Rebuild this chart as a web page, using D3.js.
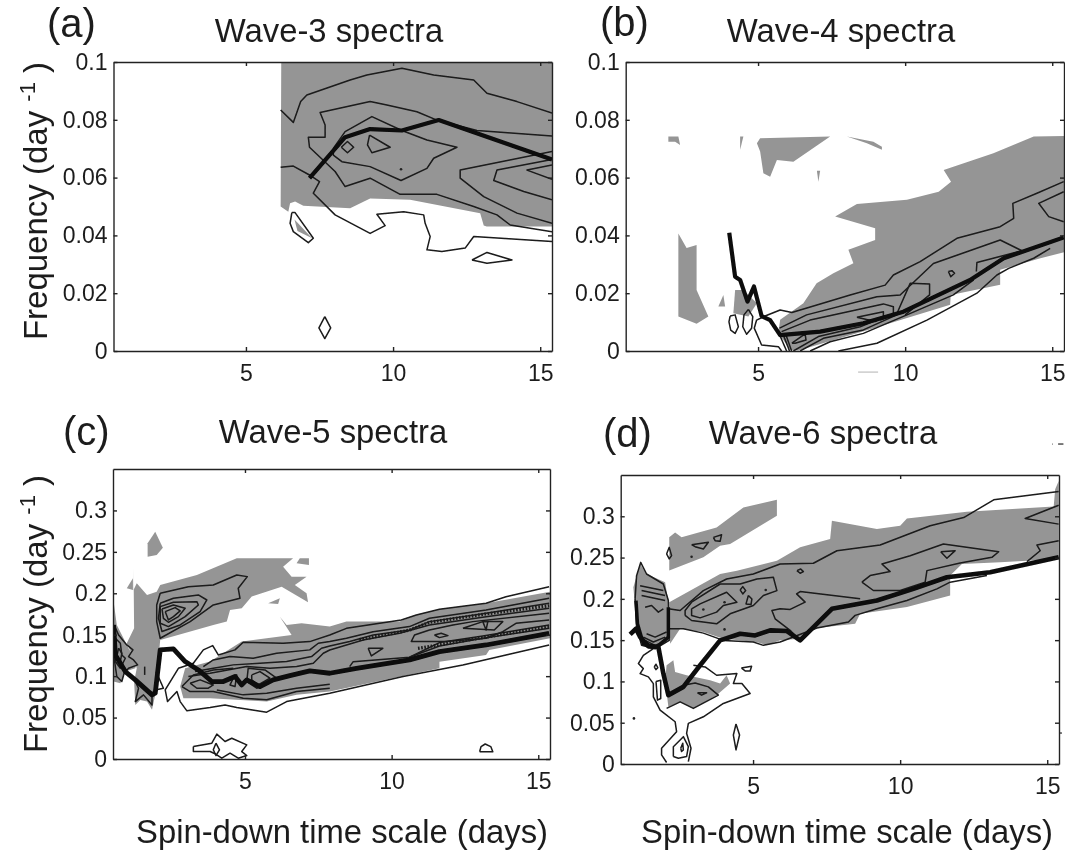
<!DOCTYPE html>
<html><head><meta charset="utf-8">
<script src="https://cdn.jsdelivr.net/npm/d3@7"></script>
<style>
html,body{margin:0;padding:0;background:#fff}
text{font-family:"Liberation Sans",Arial,sans-serif;fill:#1c1c1c}
</style></head><body>
<svg id="chart" width="1065" height="854"></svg>
<script>
// ---------- tick values and labels ----------
const xTicks = [5, 10, 15];
const xTickLabels = ["5", "10", "15"];
const yTicksAB = [0, 0.02, 0.04, 0.06, 0.08, 0.1];
const yTickLabelsAB = ["0", "0.02", "0.04", "0.06", "0.08", "0.1"];
const yTicksCD = [0, 0.05, 0.1, 0.15, 0.2, 0.25, 0.3];
const yTickLabelsCD = ["0", "0.05", "0.1", "0.15", "0.2", "0.25", "0.3"];
const xDomain = [0.5, 15.4];
const titles = ["Wave-3 spectra", "Wave-4 spectra", "Wave-5 spectra", "Wave-6 spectra"];
const letters = ["(a)", "(b)", "(c)", "(d)"];
const xLabel = "Spin-down time scale (days)";

// ---------- (a) wave-3: [spin-down days, frequency] ----------
const shadeA = [
 [[6.2,.1],[15.4,.1],[15.4,.0431],[13.18,.0431],[13.08,.0434],[12.96,.0477],[10.58,.0523],[9.22,.0528],[8.54,.0494],[6.95,.0503],[6.67,.0517],[6.5,.0511],[6.44,.0482],[6.18,.05]],
 [[6.65,.0455],[7.25,.039],[6.75,.0415]]
];
const contoursA = [
 [[6.18,.0834],[6.61,.0791],[6.86,.0863],[7.07,.0886],[8.54,.0938],[9.11,.0955],[10.3,.0978],[11.38,.0955],[12.74,.0938],[13.19,.0892],[14.21,.0863],[15.4,.0823]],
 [[15.4,.0744],[12.85,.0763],[11.49,.0799],[10.81,.0828],[9.79,.0851],[9.22,.0863],[7.52,.0825],[7.69,.0782],[7.69,.074],[7.12,.074],[7.16,.0705],[8.03,.0621],[8.37,.0569],[9.22,.0598],[10.24,.0542],[11.49,.0542],[12.74,.05],[13.53,.0471],[13.98,.0436],[15.4,.0413]],
 [[7.97,.0701],[8.37,.0759],[9.28,.0811],[10.3,.0763],[11.15,.073],[12.17,.0705],[11.38,.0667],[11.15,.0632],[10.27,.059],[9.22,.0638],[8.26,.0655],[7.97,.0678],[7.97,.0701]],
 [[8.24,.0705],[8.45,.0725],[8.66,.0705],[8.45,.0686],[8.24,.0705]],
 [[9.2,.0747],[9.9,.0705],[9.28,.0686],[9.13,.0713],[9.2,.0747]],
 [[6.18,.0636],[6.61,.064],[7.16,.0609],[7.5,.0586],[7.29,.0546],[8.03,.0471],[9.22,.0407],[9.73,.0434],[9.45,.0473],[10.36,.0482],[11.04,.0471],[11.09,.0442],[11.26,.0396],[11.15,.035],[11.66,.0344],[12.45,.0356],[12.74,.0396],[15.4,.0379]],
 [[15.4,.069],[12.28,.0626],[12.28,.0598],[13.08,.0534],[14.21,.0477],[15.4,.0442]],
 [[15.4,.0663],[13.53,.0626],[13.42,.059],[14.44,.0552],[15.4,.0523]],
 [[15.4,.0644],[14.55,.0626],[15.4,.0594]],
 [[12.68,.0315],[13.19,.0341],[14.04,.0315],[13.19,.0304],[12.68,.0315]],
 [[6.56,.0479],[6.67,.0479],[7.29,.039],[7.12,.0375],[6.61,.0413],[6.5,.0442],[6.56,.0479]],
 [[7.68,.0119],[7.88,.008],[7.68,.0043],[7.48,.008],[7.68,.0119]]
];
const peakA = [[7.16,.0598],[8.37,.074],[9.22,.0768],[10.3,.0763],[11.55,.0799],[15.4,.0663]];
const dotsA = [[10.27,.0629]];

// ---------- (b) wave-4 ----------
const shadeB = [
 [[15.4,.0744],[14.37,.0742],[13,.0684],[11.31,.0626],[11.56,.0586],[11.14,.0551],[10.06,.0523],[8.36,.0509],[7.62,.0465],[8.98,.0425],[8.98,.0384],[8.07,.035],[8.24,.0304],[7.56,.0269],[6.99,.0234],[6.54,.0165],[5.75,.0108],[5.69,.0062],[6.09,.0004],[6.37,.0002],[8.93,.0079],[11.53,.016],[11.55,.0194],[13.23,.0229],[13.23,.0281],[14.6,.0321],[15.4,.0342]],
 [[1.95,.0742],[2.29,.0742],[2.35,.0713],[2.18,.0724],[1.95,.0724]],
 [[4.39,.0742],[4.5,.0742],[4.39,.0696]],
 [[5.07,.0736],[7.45,.0742],[6.2,.0655],[5.64,.0661],[5.41,.0603],[5.18,.0615],[5.07,.069],[4.96,.0719]],
 [[8.02,.0742],[8.92,.0724],[9.21,.0707],[9.21,.0696],[8.7,.0719]],
 [[7,.0624],[7.11,.0624],[7.05,.0586]],
 [[2.29,.0407],[2.57,.0356],[2.91,.0367],[2.91,.0211],[3.31,.0119],[2.91,.0094],[2.29,.0119]],
 [[3.82,.0194],[3.88,.0154],[3.65,.0154]],
 [[4.22,.0211],[4.5,.0211],[4.96,.0165],[4.67,.0119],[4.16,.0131]]
];
const contoursB = [
 [[5.8,0],[5.69,.0015],[5.12,.0021],[4.87,.0079],[4.95,.0107],[5.24,.0121],[5.75,.0142],[6.15,.0133],[8.13,.0194],[9.32,.0228],[9.6,.0263],[10.51,.0309],[11.76,.039],[13.23,.043],[13.69,.0459],[13.66,.0511],[14.48,.0546],[15.39,.0586]],
 [[15.39,.0551],[14.54,.0511],[14.88,.0465],[15.39,.0447]],
 [[5.73,.0079],[6.65,.0125],[9.04,.0188],[9.83,.0194],[10.96,.0303],[13.23,.0384],[13.97,.0347],[12.44,.0306],[12.42,.0275]],
 [[5.8,.0067],[6.77,.0107],[9.26,.0163],[9.6,.0153],[9.6,.0125],[9.15,.0107]],
 [[8.36,.0117],[9.26,.0136],[9.26,.0119],[8.98,.0102],[8.36,.0117]],
 [[9.72,.013],[10.17,.0234],[10.83,.0232],[10.83,.0194],[10,.0125]],
 [[11.47,.0275],[11.59,.0278],[11.68,.0269],[11.55,.0257],[11.47,.0275]],
 [[6.15,.0027],[6.6,.0059],[6.63,.0038],[6.26,.0027],[6.15,.0027]],
 [[7.73,0],[9.04,.0027],[10.74,.0107],[12.44,.02],[13.12,.0263],[13.52,.0286],[14.37,.0321],[14.93,.0355]],
 [[6.77,0],[7.45,.0032],[8.58,.0061],[10.06,.0125],[11.64,.0194],[12.33,.0246]],
 [[6.43,0],[7.22,.0044],[8.58,.0073],[9.83,.013]],
 [[6.2,0],[7.05,.005],[8.47,.0084],[9.49,.0125]],
 [[5.97,0],[5.75,.0052]],
 [[6.07,0],[5.86,.0055]],
 [[6.14,0],[5.95,.0055]],
 [[4.05,.0121],[4.22,.0125],[4.33,.0084],[4.22,.0061],[4.07,.0072],[4.01,.0101],[4.05,.0121]],
 [[4.67,.0144],[4.82,.0119],[4.78,.0079],[4.61,.0058],[4.48,.0084],[4.52,.0125],[4.67,.0144]]
];
const peakB = [[4.02,.0409],[4.22,.0257],[4.39,.0246],[4.64,.0171],[4.86,.0223],[5.12,.0121],[5.41,.0107],[5.75,.0055],[7.11,.0067],[8.58,.0096],[9.94,.0136],[12.21,.0246],[13.35,.0321],[15.39,.0393]];
const specksB = [[[8.4,-.0073],[9.08,-.0073]]];

// ---------- (c) wave-5 ----------
const shadeC = [
 [[1.94,.2744],[2.2,.2551],[1.99,.2462],[1.68,.2442],[1.68,.2603]],
 [[1.2,.2301],[1.2,.204],[1.31,.212],[1.66,.198],[1.99,.202],[2.11,.21],[3.36,.2221],[4.72,.2422],[6.64,.2422],[6.3,.2321],[6.59,.2201],[7.1,.2201],[6.7,.21],[7.1,.2],[7.15,.1891],[6.25,.208],[5.23,.196],[4.89,.1819],[4.49,.1799],[4.38,.1658],[3.92,.1618],[2.11,.1437],[1.99,.1015],[1.94,.0774],[1.83,.0593],[1.66,.0693],[1.43,.0713],[1.26,.0653],[1.22,.0935],[1.31,.1095],[1.2,.1216],[.97,.1397],[1.22,.1578]],
 [[6.87,.2422],[7.18,.2422],[7.18,.2342],[6.76,.2362]],
 [[5.79,.1879],[6.19,.194],[6.13,.1871]],
 [[.97,.206],[1.18,.218],[1.18,.204]],
 [[.52,.19],[.63,.1618],[1.03,.1337],[1.31,.1175],[1.26,.1095],[.92,.1055],[.75,.0914],[.52,.0935]],
 [[2.79,.0874],[2.96,.1095],[3.81,.1176],[4.89,.1417],[6.59,.1497],[6.19,.1718],[6.42,.1618],[6.93,.1638],[7.89,.1598],[8.46,.1658],[10.27,.1658],[10.84,.1738],[11.63,.1807],[13.22,.1879],[15.4,.202],[15.4,.1457],[13.33,.1316],[13.22,.1256],[11.63,.1175],[11.63,.1095],[7.89,.0814],[6.76,.0774],[5.74,.0693],[3.81,.0734],[2.9,.0734]]
];
const contoursC = [
 [[2.11,.2],[3.07,.208],[3.92,.21],[4.72,.2221],[5.08,.2201],[4.77,.206],[4.83,.194],[3.92,.1859],[3.13,.1658],[2.11,.1457],[1.99,.1658],[1.99,.1859],[2.11,.2]],
 [[2.11,.1879],[2.56,.194],[3.41,.198],[3.7,.1919],[3.47,.1779],[2.79,.1618],[2.17,.1538],[2.05,.1698],[2.11,.1879]],
 [[2.11,.1839],[2.56,.1891],[3.36,.1899],[3.41,.1859],[2.96,.1718],[2.39,.1598],[2.11,.1638],[2.11,.1839]],
 [[2.17,.1811],[2.56,.1859],[2.96,.1819],[2.73,.1718],[2.39,.165],[2.22,.1698],[2.17,.1811]],
 [[2.28,.1779],[2.62,.1827],[2.79,.1787],[2.56,.1718],[2.39,.1678],[2.28,.1779]],
 [[15.37,.208],[13.9,.1959],[13.22,.1879],[11.63,.1807],[10.84,.1738],[10.33,.1678],[8.46,.1577],[7.89,.1497],[7.21,.1417],[6.3,.1397],[4.94,.1409],[4.66,.1317],[4.09,.1256],[3.9,.1369],[3.58,.1317],[3.24,.1156],[2.73,.1095],[2.28,.0834],[2.36,.0693],[2.68,.0814],[2.79,.0693],[3.02,.0581],[3.81,.0621],[4.32,.0653],[4.72,.0621],[5.74,.0565],[6.42,.0693],[7.89,.0794],[10.39,.0995],[12.43,.1135],[15.37,.1376]],
 [[3.58,.1116],[3.92,.1196],[4.49,.1236],[5.28,.1216],[6.08,.1276],[7.21,.1317],[7.5,.1397],[7.89,.1417],[8.46,.1457],[9.37,.1537],[10.61,.1598],[11.29,.1698],[13.22,.1799],[15.37,.1939]],
 [[3.3,.1055],[3.92,.1095],[4.6,.1136],[5.51,.1156],[6.42,.1176],[7.27,.1236],[7.61,.1337],[7.89,.1364],[8.57,.1417],[9.37,.1497],[10.61,.1557],[11.29,.1658],[13.22,.1758],[15.37,.1879]],
 [[3.07,.0995],[3.81,.1035],[5.06,.1116],[5.85,.1095],[6.76,.1116],[7.33,.1156],[7.67,.1276],[7.89,.1316],[9.03,.1437],[10.27,.1517],[11.29,.1618],[13.22,.1718],[15.37,.1819]],
 [[8.57,.1115],[8.69,.1175],[10.61,.1228],[11.63,.1364],[13.11,.1457],[15.37,.1577]],
 [[10.61,.1228],[11.63,.1405],[13.11,.1485],[15.37,.1618]],
 [[12.43,.1577],[13.11,.1658],[13.79,.1658],[13.5,.1557],[12.43,.1577]],
 [[15.37,.1678],[14.24,.1638],[13.79,.1537],[13.22,.1457],[11.86,.1417],[10.67,.1417],[10.78,.1497],[11.29,.1557],[12.09,.1618],[12.77,.1658],[15.37,.1758]],
 [[11.46,.1497],[11.69,.1517],[11.92,.1489],[11.63,.1465],[11.46,.1497]],
 [[9.2,.1336],[9.7,.1336],[9.31,.1244],[9.2,.1336]],
 [[13.11,.1658],[13.28,.1658],[13.22,.1557],[13.11,.1658]],
 [[3.13,.0915],[3.47,.0955],[3.92,.0894],[3.75,.0854],[3.36,.0854],[3.13,.0915]],
 [[2.85,.0874],[3.13,.0814],[3.92,.0814],[4.94,.0734],[5.74,.0714],[6.76,.0814],[7.89,.0854]],
 [[4.04,.0834],[4.94,.0774],[5.74,.0794],[6.76,.0854],[7.89,.0902]],
 [[5.06,.0934],[5.11,.1095],[5.68,.1075],[6.08,.0975],[5.4,.0854],[5.06,.0934]],
 [[5.23,.1015],[5.51,.1055],[5.85,.0975],[5.45,.0894],[5.23,.0955],[5.23,.1015]],
 [[4.6,.0975],[4.72,.1015],[4.66,.0874],[4.49,.0894],[4.6,.0975]],
 [[2.85,.0874],[3.24,.1015],[3.92,.1075],[4.6,.1095]],
 [[.54,.1618],[.69,.1497],[.97,.1377],[1.18,.1317],[1.03,.1236],[1.2,.1196],[1.34,.1136],[1.03,.1095],[.88,.1035],[.8,.0935],[.63,.0995],[.54,.1216],[.54,.1618]],
 [[.58,.1457],[.75,.1397],[.8,.1256],[.92,.1216],[.75,.1095],[.58,.1176],[.58,.1457]],
 [[.69,.1337],[.8,.1276],[.75,.1176],[.63,.1236],[.69,.1337]],
 [[1.26,.0935],[1.37,.0854],[1.26,.0693],[1.54,.0774],[1.83,.0653],[1.83,.0814]],
 [[1.58,.1115],[1.58,.1015]],
 [[1.97,.1055],[2.22,.0854],[1.94,.0834]],
 [[3.24,.0151],[3.87,.0191],[4.04,.03],[4.32,.0211],[4.55,.0251],[5.06,.017],[4.89,.009],[5.06,.0042],[4.77,.001],[4.49,.007],[4.21,.001],[4,.006],[3.81,.009],[3.24,.009],[3.24,.0151]],
 [[4.01,.0191],[4.13,.0111],[4.01,.0042],[3.92,.0111],[4.01,.0191]],
 [[13,.0088],[13.05,.015],[13.19,.0181],[13.38,.015],[13.45,.0088],[13,.0088]]
];
const denseC = [
 [[8.9,.144],[10.6,.1555],[11.3,.165],[13.2,.175],[15.37,.185]],
 [[10.9,.1335],[13.1,.1465],[15.37,.1595]]
];
const peakC = [[.52,.1618],[.58,.1256],[.92,.1055],[1.26,.0955],[1.83,.0774],[1.94,.0794],[2.11,.1317],[2.56,.1329],[2.96,.1176],[3.41,.1075],[3.87,.0935],[4.26,.0935],[4.66,.0995],[4.89,.0894],[5.06,.0955],[5.51,.0874],[5.96,.0955],[6.53,.1007],[7.21,.1063],[7.89,.1035],[8.8,.1095],[10.61,.1196],[11.63,.1296],[13.22,.1376],[15.37,.1517]];

// ---------- (d) wave-6 ----------
const shadeD = [
 [[2.15,.2745],[2.35,.2805],[2.57,.2745],[3.76,.2865],[4.67,.3107],[5.81,.32],[5.81,.3006],[4.22,.2664],[3.88,.2644],[3.31,.2504],[2.15,.2343]],
 [[2.15,.1959],[3.88,.2301],[4.45,.2341],[5.81,.2462],[6.6,.2624],[7.62,.2724],[7.68,.2945],[9.21,.2845],[10,.2885],[10.23,.2973],[12.27,.3054],[15.22,.3118],[15.27,.3327],[15.39,.3428],[15.39,.2483],[13.4,.2443],[12.1,.2423],[11.7,.2282],[11.7,.204],[10.23,.19],[8.64,.182],[8.47,.1699],[7.17,.1647],[6.6,.1518],[5.92,.1498],[5.47,.1437],[5.12,.1477],[3.99,.1517],[3.31,.1598],[2.52,.1638],[2.18,.1457]],
 [[.93,.214],[1.16,.2422],[1.38,.2301],[2.01,.2201],[2.15,.1899],[2.15,.1497],[1.61,.1417],[1.21,.1457],[1.04,.1698]],
 [[2.06,.1196],[2.29,.1256],[2.35,.1115],[2.74,.1075],[3.54,.1015],[3.88,.0974],[4.1,.1075],[4.22,.0974],[3.76,.0834],[2.97,.0673],[2.52,.0753],[2.12,.0693],[2.01,.1015]]
];
const contoursD = [
 [[2.12,.1879],[2.52,.1859],[3.31,.21],[4.1,.2241],[5.01,.2301],[5.92,.2423],[7.05,.2431],[7.85,.2583],[9.32,.2652],[11.02,.2885],[12.16,.2985],[13.18,.3199],[15.39,.3299]],
 [[2.12,.1638],[2.63,.1638],[3.31,.1585],[3.99,.1497],[5.01,.1477],[5.35,.1437],[5.92,.1477],[7.17,.1647],[8.24,.1719],[8.47,.18],[9.21,.188],[10.23,.198],[11.25,.2121],[11.7,.2202],[12.95,.2282]],
 [[8.7,.2202],[8.98,.2282],[9.66,.233],[9.38,.2423],[10.34,.2523],[11.47,.2664],[13.35,.2571],[13.12,.2503],[12.04,.2435],[10.91,.2342],[10.85,.2202],[10,.2101],[9.09,.2101],[8.7,.2202]],
 [[11.38,.2571],[11.87,.2584],[11.59,.2491],[11.38,.2571]],
 [[15.39,.3134],[14.25,.2973],[15.39,.2905]],
 [[15.39,.2704],[14.65,.2652],[14.76,.2583],[14.31,.245]],
 [[6.49,.2342],[6.62,.2362],[6.71,.233],[6.6,.231],[6.49,.2342]],
 [[8.64,.2],[6.6,.2089],[6.48,.206],[6.77,.196],[6.26,.1872],[5.92,.188],[5.64,.1859],[5.75,.1758],[6.26,.1618],[6.43,.1557]],
 [[2.69,.1799],[2.91,.1738],[3.76,.1698],[4.22,.1819],[5.01,.1919],[5.35,.204],[5.81,.21],[5.69,.2261],[5.13,.2241],[4.56,.218],[3.88,.218],[2.91,.1959],[2.69,.1859],[2.69,.1799]],
 [[2.91,.1879],[3.2,.1939],[4.1,.208],[4.45,.1959],[3.99,.1919],[3.76,.1839],[3.2,.177],[2.91,.1799],[2.91,.1879]],
 [[4.56,.2108],[4.65,.2148],[4.75,.21],[4.65,.206],[4.56,.2108]],
 [[4.84,.204],[4.96,.1999],[4.93,.1931],[4.76,.1939],[4.84,.204]],
 [[2.06,.2544],[2.15,.2624],[2.23,.2524],[2.15,.2484],[2.06,.2544]],
 [[2.91,.2656],[3.48,.2685],[3.31,.2604],[3.03,.2632],[2.91,.2656]],
 [[3.65,.2745],[3.93,.2777],[3.88,.2697],[3.71,.2705],[3.65,.2745]],
 [[.99,.2],[1.04,.2281],[1.18,.2442],[1.38,.2301],[1.95,.218],[2.12,.1979],[2.15,.1497],[1.67,.1396],[1.21,.1437],[1.04,.1658],[.99,.2]],
 [[1.16,.216],[1.95,.21]],
 [[1.21,.21],[2.01,.204]],
 [[1.21,.204],[2.01,.1979]],
 [[1.33,.1899],[1.55,.1919],[1.78,.1839],[1.95,.1879]],
 [[1.27,.1537],[1.61,.1477],[2.01,.1537]],
 [[1.33,.1497],[1.67,.1437],[2.06,.1497]],
 [[1.38,.1577],[1.67,.1537],[2.06,.1598]],
 [[1.61,.1396],[1.27,.1316],[1.1,.1216],[1.27,.1155],[1.16,.1095],[1.44,.1055],[1.61,.0974],[1.61,.0814],[1.84,.0653],[2.35,.0512],[2.4,.0392],[1.89,.0191],[1.89,.011],[2.06,.0018]],
 [[2.8,.003],[2.89,.0191],[2.74,.0372],[2.8,.0492],[3.31,.0572],[3.99,.0733],[4.9,.0854],[4.62,.0974],[4.33,.0974],[4.45,.1095],[3.76,.1075],[3.37,.1176],[2.97,.1196]],
 [[2.06,.0673],[2.52,.0753],[2.97,.0673],[3.82,.0834],[3.48,.0934],[3.03,.0982],[2.63,.0954]],
 [[3.11,.0862],[3.42,.0862],[3.25,.0834],[3.11,.0862]],
 [[1.7,.1],[1.86,.1015],[1.86,.0793],[1.75,.0773],[1.7,.1]],
 [[1.64,.1175],[1.7,.1208],[1.76,.1167],[1.7,.1143],[1.64,.1175]],
 [[4.6,.1163],[4.95,.1183],[4.9,.1127],[4.73,.1127],[4.6,.1163]],
 [[2.29,.009],[2.29,.021],[2.63,.0331],[2.8,.021],[2.74,.009],[2.46,.007],[2.29,.009]],
 [[2.54,.0191],[2.61,.0251],[2.63,.0171],[2.57,.0151],[2.54,.0191]],
 [[4.42,.0484],[4.54,.0351],[4.42,.0171],[4.33,.0351],[4.42,.0484]]
];
const heavyD = [[1.02,.1979],[1.07,.1698],[1.27,.1457],[1.72,.1417],[2.12,.1537],[2.12,.1899]];
const peakD = [[.82,.1569],[1.02,.1638],[1.16,.1537],[1.44,.1425],[1.78,.1417],[1.95,.1095],[2.12,.0834],[2.63,.0934],[3.2,.1196],[3.88,.1497],[4.56,.1577],[5.07,.1557],[5.58,.1618],[6.15,.161],[6.6,.1498],[7.68,.188],[9.21,.198],[10.45,.2121],[11.59,.2262],[13.06,.2322],[15.39,.2503]];
const dotsD = [[3.31,.1871],[4.03,.1959],[5.43,.2108],[4.03,.163],[2.91,.251],[.95,.0552]];
const specksD = [[[15.17,.3875],[15.19,.3875]],[[15.37,.3875],[15.55,.3875]],[[15.4,.0375],[15.5,.0375]]];

// ---------- layout ----------
const layout = [
 {L:113.5,R:552,T:62,B:351,yMax:.1,yTicks:yTicksAB,yLabs:yTickLabelsAB,shade:shadeA,lines:contoursA,peak:peakA,peakW:4.2,dots:dotsA,
  title:[329,42],letter:[47,37]},
 {L:625.7,R:1064,T:62,B:351,yMax:.1,yTicks:yTicksAB,yLabs:yTickLabelsAB,shade:shadeB,lines:contoursB,peak:peakB,peakW:4.2,specks:specksB,speckColor:"#c4c4c4",
  title:[841,42],letter:[600,36]},
 {L:113,R:550,T:469,B:759,yMax:.35,yTicks:yTicksCD,yLabs:yTickLabelsCD,shade:shadeC,lines:contoursC,peak:peakC,peakW:4.8,dense:denseC,
  title:[333,443],letter:[63,445]},
 {L:620.7,R:1059,T:475,B:764,yMax:.35,yTicks:yTicksCD,yLabs:yTickLabelsCD,shade:shadeD,lines:contoursD,peak:peakD,peakW:4.6,heavy:heavyD,dots:dotsD,specks:specksD,speckColor:"#333",
  title:[823,444],letter:[603,447]}
];

const svg = d3.select("#chart");
const defs = svg.append("defs");
defs.append("filter").attr("id","soft").append("feGaussianBlur").attr("stdDeviation",0.45);
const root = svg.append("g").attr("filter","url(#soft)");

layout.forEach((p,i)=>{
  const x = d3.scaleLinear().domain(xDomain).range([p.L,p.R]);
  const y = d3.scaleLinear().domain([0,p.yMax]).range([p.B,p.T]);
  const line = d3.line().x(d=>x(d[0])).y(d=>y(d[1]));
  const id = "clip"+i;
  defs.append("clipPath").attr("id",id).append("rect")
    .attr("x",p.L).attr("y",p.T).attr("width",p.R-p.L).attr("height",p.B-p.T);
  const g = root.append("g");
  const plot = g.append("g").attr("clip-path",`url(#${id})`);
  plot.selectAll("path.s").data(p.shade).join("path").attr("class","s")
    .attr("d",d=>line(d)+"Z").attr("fill","#959595");
  plot.selectAll("path.c").data(p.lines).join("path").attr("class","c")
    .attr("d",line).attr("fill","none").attr("stroke","#1a1a1a").attr("stroke-width",1.5).attr("stroke-linejoin","round");
  if(p.dense) plot.selectAll("path.d").data(p.dense).join("path").attr("class","d")
    .attr("d",line).attr("fill","none").attr("stroke","#1a1a1a").attr("stroke-width",3.2).attr("stroke-dasharray","1.6 1.6");
  if(p.heavy) plot.append("path").attr("d",line(p.heavy)).attr("fill","none").attr("stroke","#111").attr("stroke-width",3.5);
  if(p.dots) plot.selectAll("circle").data(p.dots).join("circle")
    .attr("cx",d=>x(d[0])).attr("cy",d=>y(d[1])).attr("r",1.3).attr("fill","#222");
  plot.append("path").attr("d",line(p.peak)).attr("fill","none").attr("stroke","#0a0a0a")
    .attr("stroke-width",p.peakW).attr("stroke-linejoin","round");
  if(p.specks) g.selectAll("path.k").data(p.specks).join("path").attr("class","k")
    .attr("d",line).attr("fill","none").attr("stroke",p.speckColor).attr("stroke-width",1.3);

  // axes: inward ticks on all four sides
  const style = a => { a.selectAll("path,line").attr("stroke","#222").attr("stroke-width",1.4); a.selectAll("path").attr("fill","none"); };
  const xb = g.append("g").attr("transform",`translate(0,${p.B})`)
    .call(d3.axisBottom(x).tickValues(xTicks).tickFormat((d,j)=>xTickLabels[j]).tickSizeInner(-4).tickSizeOuter(0).tickPadding(14));
  const yl = g.append("g").attr("transform",`translate(${p.L},0)`)
    .call(d3.axisLeft(y).tickValues(p.yTicks).tickFormat((d,j)=>p.yLabs[j]).tickSizeInner(-4).tickSizeOuter(0).tickPadding(6));
  const xt = g.append("g").attr("transform",`translate(0,${p.T})`)
    .call(d3.axisTop(x).tickValues(xTicks).tickFormat("").tickSizeInner(-4).tickSizeOuter(0));
  const yr = g.append("g").attr("transform",`translate(${p.R},0)`)
    .call(d3.axisRight(y).tickValues(p.yTicks).tickFormat("").tickSizeInner(-4).tickSizeOuter(0));
  [xb,yl,xt,yr].forEach(style);
  [xb,yl].forEach(a=>a.selectAll("text").attr("font-size",23).style("font-family",'"Liberation Sans",Arial,sans-serif').attr("fill","#1c1c1c"));

  g.append("text").attr("x",p.title[0]).attr("y",p.title[1]).attr("text-anchor","middle").attr("font-size",32.8).text(titles[i]);
  g.append("text").attr("x",p.letter[0]).attr("y",p.letter[1]).attr("font-size",40).text(letters[i]);
});

// y labels on the left-hand panels
[[47,201],[47,614]].forEach(pos=>{
  const t = root.append("text").attr("transform",`translate(${pos[0]},${pos[1]}) rotate(-90)`)
    .attr("text-anchor","middle").attr("font-size",33);
  t.append("tspan").text("Frequency (day ");
  t.append("tspan").attr("dy",-12).attr("font-size",22).text("-1");
  t.append("tspan").attr("dy",12).text(" )");
});
// x labels on the lower panels
[[342,843],[847,843]].forEach(pos=>{
  root.append("text").attr("x",pos[0]).attr("y",pos[1]).attr("text-anchor","middle").attr("font-size",32.8).text(xLabel);
});
</script>
</body></html>
